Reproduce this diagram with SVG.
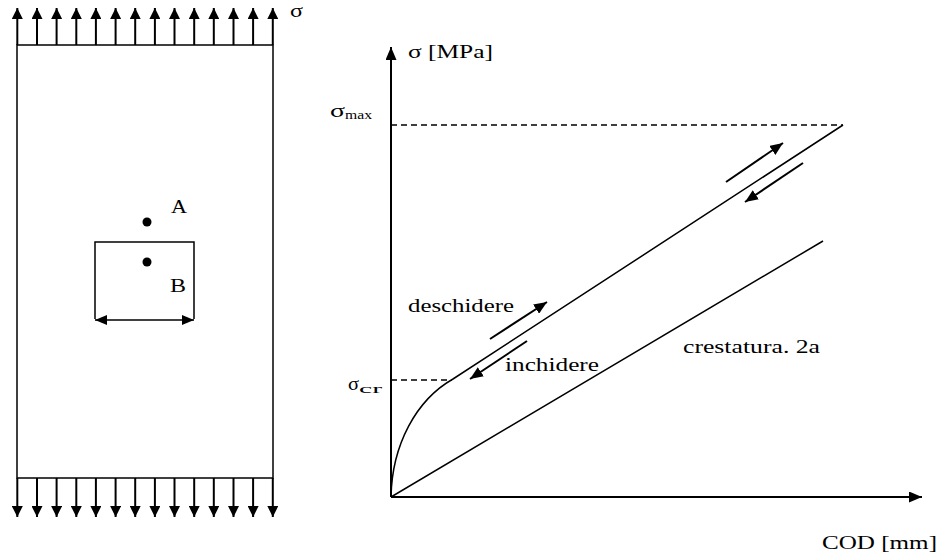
<svg xmlns="http://www.w3.org/2000/svg" width="940" height="555" viewBox="0 0 940 555">
<style>
.ln{stroke:#000;stroke-width:1.5;fill:none}
.ax{stroke:#000;stroke-width:2;fill:none}
.ds{stroke:#000;stroke-width:1.3;fill:none;stroke-dasharray:6 4}
.ld{stroke:#000;stroke-width:2;fill:none}
.t{font-family:"Liberation Serif","Times New Roman",serif;font-size:18px;fill:#000}
.s{font-family:"Liberation Serif","Times New Roman",serif;font-size:12px;fill:#000}
</style>
<defs>
<marker id="ah" markerUnits="userSpaceOnUse" markerWidth="13" markerHeight="11" refX="13" refY="5.5" orient="auto">
<path d="M0,0 L13,5.5 L0,11 z" fill="#000"/>
</marker>
<marker id="lh" markerUnits="userSpaceOnUse" markerWidth="11" markerHeight="11" refX="11" refY="5.5" orient="auto">
<path d="M0,0 L11,5.5 L0,11 z" fill="#000"/>
</marker>
<marker id="nh" markerUnits="userSpaceOnUse" markerWidth="12" markerHeight="10" refX="12" refY="5" orient="auto-start-reverse">
<path d="M0,0 L12,5 L0,10 z" fill="#000"/>
</marker>
</defs>
<rect width="940" height="555" fill="#fff"/>

<g id="plate">
<rect x="17" y="45" width="256" height="433" class="ln"/>
</g>
<g id="notch">
<polyline points="95,319 95,242 194,242 194,319" class="ln"/>
</g>
<g id="pointA">
<circle cx="147" cy="222" r="4.5" fill="#000"/>
<text x="171" y="213" class="t" textLength="16" lengthAdjust="spacingAndGlyphs">A</text>
</g>
<g id="pointB">
<circle cx="147" cy="262" r="4.5" fill="#000"/>
<text x="170" y="292" class="t" textLength="16" lengthAdjust="spacingAndGlyphs">B</text>
</g>
<g id="sigma-load">
<text x="290" y="17" class="t" textLength="13" lengthAdjust="spacingAndGlyphs">σ</text>
</g>

<g id="axes">
<line x1="391" y1="497" x2="391" y2="47" class="ax" marker-end="url(#ah)"/>
<line x1="391" y1="497" x2="922" y2="497" class="ax" marker-end="url(#ah)"/>
<text x="408" y="58" class="t" textLength="85" lengthAdjust="spacingAndGlyphs">σ [MPa]</text>
<text x="822" y="549" class="t" textLength="115" lengthAdjust="spacingAndGlyphs">COD [mm]</text>
</g>
<g id="sigma-max">
<line x1="391" y1="125" x2="843" y2="125" class="ds"/>
<text x="330" y="117" class="t" textLength="15" lengthAdjust="spacingAndGlyphs">σ</text>
<text x="345" y="119" class="s" textLength="27" lengthAdjust="spacingAndGlyphs">max</text>
</g>
<g id="sigma-cr">
<line x1="391" y1="380" x2="452" y2="380" class="ds"/>
<text x="348" y="390" class="t" textLength="11" lengthAdjust="spacingAndGlyphs">σ</text>
<text x="359" y="393" class="s" textLength="23" lengthAdjust="spacingAndGlyphs">cr</text>
</g>
<g id="loading-curve">
<path d="M391,497 C392,445 416,400 453,379 L843,125" class="ln"/>
</g>
<g id="notch-line">
<line x1="391" y1="497" x2="823" y2="241" class="ln"/>
<text x="683" y="353" class="t" textLength="137" lengthAdjust="spacingAndGlyphs">crestatura. 2a</text>
</g>
<g id="labels">
<text x="408" y="312" class="t" textLength="106" lengthAdjust="spacingAndGlyphs">deschidere</text>
<text x="505" y="371" class="t" textLength="94" lengthAdjust="spacingAndGlyphs">inchidere</text>
</g>

<g id="connectors">
<line x1="95" y1="320" x2="194" y2="320" class="ln" marker-start="url(#nh)" marker-end="url(#nh)"/>
<line x1="490" y1="339" x2="547" y2="302" class="ld" marker-end="url(#ah)"/>
<line x1="527" y1="341" x2="470" y2="379" class="ld" marker-end="url(#ah)"/>
<line x1="726" y1="182" x2="783" y2="143" class="ld" marker-end="url(#ah)"/>
<line x1="803" y1="163" x2="745" y2="202" class="ld" marker-end="url(#ah)"/>
<g id="load-top" class="ld">
<line x1="17.3" y1="45" x2="17.3" y2="8" marker-end="url(#lh)"/>
<line x1="37" y1="45" x2="37" y2="8" marker-end="url(#lh)"/>
<line x1="56.6" y1="45" x2="56.6" y2="8" marker-end="url(#lh)"/>
<line x1="76.3" y1="45" x2="76.3" y2="8" marker-end="url(#lh)"/>
<line x1="95.9" y1="45" x2="95.9" y2="8" marker-end="url(#lh)"/>
<line x1="115.6" y1="45" x2="115.6" y2="8" marker-end="url(#lh)"/>
<line x1="135.2" y1="45" x2="135.2" y2="8" marker-end="url(#lh)"/>
<line x1="154.9" y1="45" x2="154.9" y2="8" marker-end="url(#lh)"/>
<line x1="174.5" y1="45" x2="174.5" y2="8" marker-end="url(#lh)"/>
<line x1="194.2" y1="45" x2="194.2" y2="8" marker-end="url(#lh)"/>
<line x1="213.8" y1="45" x2="213.8" y2="8" marker-end="url(#lh)"/>
<line x1="233.5" y1="45" x2="233.5" y2="8" marker-end="url(#lh)"/>
<line x1="253.1" y1="45" x2="253.1" y2="8" marker-end="url(#lh)"/>
<line x1="272.8" y1="45" x2="272.8" y2="8" marker-end="url(#lh)"/>
</g>
<g id="load-bottom" class="ld">
<line x1="17.3" y1="478" x2="17.3" y2="517" marker-end="url(#lh)"/>
<line x1="37" y1="478" x2="37" y2="517" marker-end="url(#lh)"/>
<line x1="56.6" y1="478" x2="56.6" y2="517" marker-end="url(#lh)"/>
<line x1="76.3" y1="478" x2="76.3" y2="517" marker-end="url(#lh)"/>
<line x1="95.9" y1="478" x2="95.9" y2="517" marker-end="url(#lh)"/>
<line x1="115.6" y1="478" x2="115.6" y2="517" marker-end="url(#lh)"/>
<line x1="135.2" y1="478" x2="135.2" y2="517" marker-end="url(#lh)"/>
<line x1="154.9" y1="478" x2="154.9" y2="517" marker-end="url(#lh)"/>
<line x1="174.5" y1="478" x2="174.5" y2="517" marker-end="url(#lh)"/>
<line x1="194.2" y1="478" x2="194.2" y2="517" marker-end="url(#lh)"/>
<line x1="213.8" y1="478" x2="213.8" y2="517" marker-end="url(#lh)"/>
<line x1="233.5" y1="478" x2="233.5" y2="517" marker-end="url(#lh)"/>
<line x1="253.1" y1="478" x2="253.1" y2="517" marker-end="url(#lh)"/>
<line x1="272.8" y1="478" x2="272.8" y2="517" marker-end="url(#lh)"/>
</g>
</g>
</svg>
